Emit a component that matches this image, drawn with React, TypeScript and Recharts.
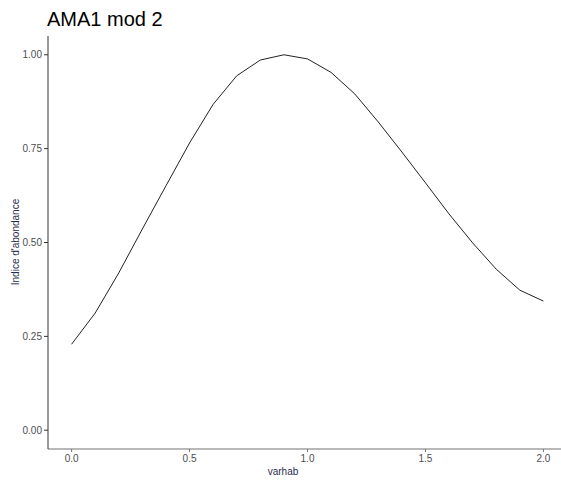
import { LineChart, Line, XAxis, YAxis } from 'recharts';

const varhab = [0, 0.1, 0.2, 0.3, 0.4, 0.5, 0.6, 0.7, 0.8, 0.9, 1.0, 1.1, 1.2, 1.3, 1.4, 1.5, 1.6, 1.7, 1.8, 1.9, 2.0];
const abondance = [0.229, 0.312, 0.419, 0.536, 0.651, 0.765, 0.868, 0.944, 0.986, 1.0, 0.989, 0.953, 0.896, 0.821, 0.741, 0.659, 0.576, 0.499, 0.429, 0.373, 0.344];
const xTicks = [0, 0.5, 1, 1.5, 2];
const yTicks = [0, 0.25, 0.5, 0.75, 1];

const data = varhab.map((v, i) => ({ varhab: v, value: abondance[i] }));

const font = '"Liberation Sans", Arial, sans-serif';
const tickStyle = { fill: '#4d4d4d', fontSize: 10, fontFamily: font };

export default function App() {
  return (
    <div style={{ position: 'absolute', left: 0, top: 0, width: 561, height: 482, overflow: 'hidden', background: '#fff' }}>
      <div style={{ position: 'absolute', left: 47, top: 7, fontSize: 20, fontFamily: font, color: '#000', lineHeight: '24px' }}>
        AMA1 mod 2
      </div>
      <div style={{ position: 'absolute', left: 283, top: 466, transform: 'translateX(-50%)', fontSize: 10, fontFamily: font, color: '#1f2d4a', lineHeight: '12px' }}>
        varhab
      </div>
      <div style={{ position: 'absolute', left: 16, top: 242, transform: 'translate(-50%, -50%) rotate(-90deg)', fontSize: 10, fontFamily: font, color: '#1f2d4a', lineHeight: '12px', whiteSpace: 'nowrap' }}>
        Indice d'abondance
      </div>
      <div style={{ position: 'absolute', left: 0, top: 0 }}>
        <LineChart width={567} height={482} data={data} margin={{ top: 36, right: 0, bottom: 0, left: 0 }}>
          <XAxis
            xAxisId="top"
            orientation="top"
            dataKey="varhab"
            type="number"
            domain={[-0.1, 2.1]}
            height={0}
            tick={false}
            tickLine={false}
            axisLine={{ stroke: '#999', strokeWidth: 1.2 }}
          />
          <XAxis
            dataKey="varhab"
            type="number"
            domain={[-0.1, 2.1]}
            ticks={xTicks}
            tickFormatter={(v) => v.toFixed(1)}
            height={33}
            tick={tickStyle}
            tickSize={3}
            tickMargin={3}
            tickLine={{ stroke: '#777' }}
            axisLine={{ stroke: '#a0a0a0', strokeWidth: 1.6 }}
          />
          <YAxis
            type="number"
            domain={[-0.05, 1.05]}
            ticks={yTicks}
            tickFormatter={(v) => v.toFixed(2)}
            width={48}
            tick={tickStyle}
            tickSize={4}
            tickMargin={2}
            tickLine={{ stroke: '#333' }}
            axisLine={{ stroke: '#333', strokeWidth: 1 }}
          />
          <Line
            type="linear"
            dataKey="value"
            stroke="#222"
            strokeWidth={1}
            dot={false}
            isAnimationActive={false}
          />
        </LineChart>
      </div>
    </div>
  );
}
